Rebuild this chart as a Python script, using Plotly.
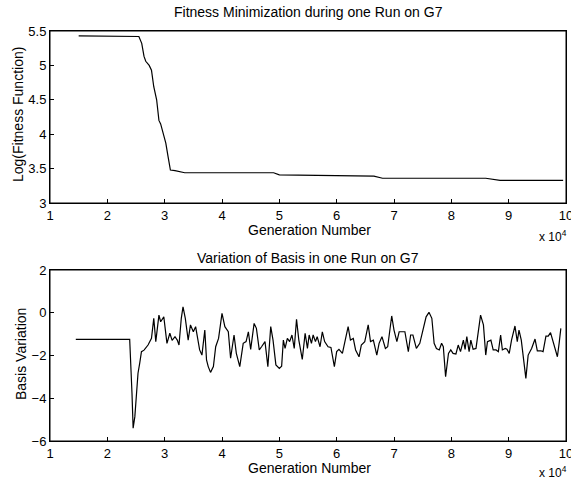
import plotly.graph_objects as go

# ---- data (generation number in units of 10^4) ----
fit_gen = [1.50, 2.00, 2.55, 2.60, 2.64, 2.67, 2.73, 2.77, 2.81, 2.86,
           2.90, 2.93, 2.97, 3.02, 3.06, 3.10, 3.18, 3.35, 4.00, 4.90,
           5.00, 6.00, 6.60, 6.65, 6.80, 8.60, 8.85, 9.95]
fit_val = [5.43, 5.43, 5.42, 5.32, 5.13, 5.06, 5.00, 4.93, 4.69, 4.50,
           4.20, 4.15, 4.03, 3.87, 3.67, 3.48, 3.47, 3.44, 3.44, 3.44,
           3.41, 3.40, 3.40, 3.39, 3.36, 3.36, 3.33, 3.33]

basis_gen = [1.45, 2.39, 2.43, 2.45, 2.48, 2.51, 2.535, 2.565, 2.595, 2.64,
             2.71, 2.77, 2.81, 2.845, 2.90, 2.93, 2.985, 3.04, 3.09, 3.13,
             3.18, 3.22, 3.25, 3.29, 3.32, 3.36, 3.41, 3.45, 3.50, 3.54,
             3.58, 3.61, 3.65, 3.70, 3.73, 3.76, 3.80, 3.85, 3.89, 3.94,
             4.00, 4.05, 4.11, 4.15, 4.21, 4.25, 4.31, 4.37, 4.42, 4.46,
             4.50, 4.56, 4.60, 4.65, 4.69, 4.75, 4.80, 4.85, 4.89, 4.94,
             5.00, 5.04, 5.07, 5.10, 5.14, 5.18, 5.22, 5.26, 5.30, 5.34,
             5.40, 5.45, 5.49, 5.52, 5.56, 5.59, 5.63, 5.66, 5.71, 5.75,
             5.79, 5.85, 5.90, 5.96, 6.00, 6.04, 6.10, 6.16, 6.20, 6.24,
             6.29, 6.33, 6.39, 6.43, 6.49, 6.55, 6.59, 6.64, 6.70, 6.74,
             6.79, 6.85, 6.89, 6.96, 7.00, 7.05, 7.09, 7.13, 7.19, 7.25,
             7.29, 7.33, 7.39, 7.45, 7.51, 7.56, 7.61, 7.66, 7.70, 7.74,
             7.79, 7.83, 7.86, 7.90, 7.95, 7.99, 8.03, 8.08, 8.12, 8.16,
             8.21, 8.24, 8.27, 8.31, 8.34, 8.38, 8.43, 8.47, 8.51, 8.56,
             8.60, 8.63, 8.69, 8.73, 8.78, 8.82, 8.86, 8.89, 8.94, 8.97,
             9.01, 9.05, 9.11, 9.15, 9.18, 9.22, 9.25, 9.30, 9.34, 9.40,
             9.46, 9.50, 9.56, 9.60, 9.65, 9.69, 9.73, 9.77, 9.82, 9.85,
             9.88, 9.91]
basis_val = [-1.25, -1.25, -3.77, -5.40, -4.86, -3.46, -2.83, -2.36, -1.82, -1.75,
             -1.51, -1.20, -0.26, -1.35, -0.11, -0.42, -0.19, -1.43, -0.96, -1.29,
             -1.12, -1.28, -1.51, -0.26, 0.28, -0.26, -1.28, -0.57, -0.89, -0.65,
             -1.28, -1.74, -1.98, -0.81, -2.21, -2.52, -2.79, -2.52, -1.59, -1.20,
             -0.03, -0.65, -0.89, -2.13, -1.04, -1.90, -2.52, -1.43, -1.35, -0.89,
             -1.71, -0.50, -0.73, -1.74, -1.59, -1.35, -2.52, -0.65, -1.28, -2.44,
             -2.60, -2.50, -1.28, -1.67, -1.20, -1.35, -1.04, -1.67, -0.31, -1.28,
             -2.18, -0.96, -1.67, -1.04, -1.43, -1.04, -1.35, -1.12, -1.59, -0.89,
             -1.35, -1.59, -1.62, -2.52, -1.82, -1.71, -1.90, -1.04, -0.65, -1.28,
             -1.20, -1.74, -2.06, -1.51, -1.35, -0.57, -1.35, -1.28, -1.98, -1.43,
             -1.12, -1.67, -1.59, -0.15, -0.81, -1.35, -0.89, -0.89, -0.89, -1.82,
             -1.04, -1.04, -1.67, -1.43, -0.77, -0.19, 0.02, -0.26, -1.43, -1.67,
             -1.74, -1.43, -1.59, -2.99, -1.90, -1.74, -1.90, -1.93, -1.51, -1.82,
             -1.28, -1.71, -1.12, -1.82, -1.28, -1.71, -1.67, -0.89, -0.11, -0.57,
             -1.98, -1.35, -1.28, -1.74, -1.74, -1.82, -1.04, -1.74, -1.67, -1.71,
             -1.90, -1.28, -0.62, -1.35, -0.81, -1.28, -2.06, -3.07, -1.98, -1.67,
             -1.23, -1.78, -1.78, -1.82, -1.09, -1.09, -0.93, -1.35, -1.74, -2.06,
             -1.43, -0.73]

x_ticks = [1, 2, 3, 4, 5, 6, 7, 8, 9, 10]
fit_ticks = [3, 3.5, 4, 4.5, 5, 5.5]
basis_ticks = [-6, -4, -2, 0, 2]

title_top = "Fitness Minimization during one Run on G7"
title_bottom = "Variation of Basis in one Run on G7"
x_label = "Generation Number"
y_label_top = "Log(Fitness Function)"
y_label_bottom = "Basis Variation"

W, H = 571, 480
FONT = "Liberation Sans, Arial, Helvetica, sans-serif"

def px_x(p):
    return p / W

def px_y(p):
    return 1 - p / H

fig = go.Figure()
fig.add_trace(go.Scatter(x=fit_gen, y=fit_val, mode="lines",
                         line=dict(color="black", width=1.2),
                         xaxis="x", yaxis="y", showlegend=False,
                         hoverinfo="skip"))
fig.add_trace(go.Scatter(x=basis_gen, y=basis_val, mode="lines",
                         line=dict(color="black", width=1.2),
                         xaxis="x2", yaxis="y2", showlegend=False,
                         hoverinfo="skip"))

axis_common = dict(showline=True, linecolor="black", linewidth=1,
                   mirror=True, ticks="inside", ticklen=4,
                   tickcolor="black", showgrid=False, zeroline=False,
                   automargin=False, ticklabeloverflow="allow",
                   tickfont=dict(family=FONT, size=13, color="black"))
mirror_common = dict(showline=False, ticks="inside", ticklen=4,
                     tickcolor="black", showgrid=False, zeroline=False,
                     automargin=False, showticklabels=False)

x_dom = [px_x(50), px_x(566)]
top_dom = [px_y(203), px_y(31)]
bot_dom = [px_y(441), px_y(270)]
fig.update_layout(
    width=W, height=H,
    margin=dict(l=0, r=0, t=0, b=0, autoexpand=False),
    paper_bgcolor="white", plot_bgcolor="white",
    font=dict(family=FONT, size=13, color="black"),
    xaxis=dict(domain=x_dom, range=[1, 10], tickvals=x_ticks,
               anchor="y", **axis_common),
    yaxis=dict(domain=top_dom, range=[3, 5.5],
               tickvals=fit_ticks, ticktext=[f"{v:g}" for v in fit_ticks],
               anchor="x", **axis_common),
    xaxis2=dict(domain=x_dom, range=[1, 10], tickvals=x_ticks,
                anchor="y2", **axis_common),
    yaxis2=dict(domain=bot_dom, range=[-6, 2],
                tickvals=basis_ticks, anchor="x2", **axis_common),
    # mirrored tick marks on the top and right edges
    xaxis3=dict(overlaying="x", side="top", anchor="y", range=[1, 10],
                tickvals=x_ticks, **mirror_common),
    yaxis3=dict(overlaying="y", side="right", anchor="x", range=[3, 5.5],
                tickvals=fit_ticks, **mirror_common),
    xaxis4=dict(overlaying="x2", side="top", anchor="y2", range=[1, 10],
                tickvals=x_ticks, **mirror_common),
    yaxis4=dict(overlaying="y2", side="right", anchor="x2", range=[-6, 2],
                tickvals=basis_ticks, **mirror_common),
)

# frame boxes round each plot area
for xr, yr in (("x", "y"), ("x2", "y2")):
    fig.add_shape(type="rect", xref=f"{xr} domain", yref=f"{yr} domain",
                  x0=0, x1=1, y0=0, y1=1,
                  line=dict(color="black", width=1), layer="above")

ann_font = dict(family=FONT, size=14, color="black")
annotations = [
    dict(text=title_top, x=px_x(308), y=px_y(12)),
    dict(text=title_bottom, x=px_x(308), y=px_y(258)),
    dict(text=x_label, x=px_x(309), y=px_y(230)),
    dict(text=x_label, x=px_x(309), y=px_y(468)),
    dict(text=y_label_top, x=px_x(18), y=px_y(115), textangle=-90),
    dict(text=y_label_bottom, x=px_x(21), y=px_y(354), textangle=-90),
    dict(text="x 10<sup>4</sup>", x=px_x(553), y=px_y(236), font=dict(family=FONT, size=12, color="black")),
    dict(text="x 10<sup>4</sup>", x=px_x(553), y=px_y(472), font=dict(family=FONT, size=12, color="black")),
]
for a in annotations:
    a.setdefault("font", ann_font)
    fig.add_annotation(xref="paper", yref="paper", showarrow=False,
                       xanchor="center", yanchor="middle", **a)

fig.write_html("out.html",
               config={"displayModeBar": False, "staticPlot": True},
               post_script="document.body.style.margin='0';"
                           "document.body.style.overflow='hidden';")
